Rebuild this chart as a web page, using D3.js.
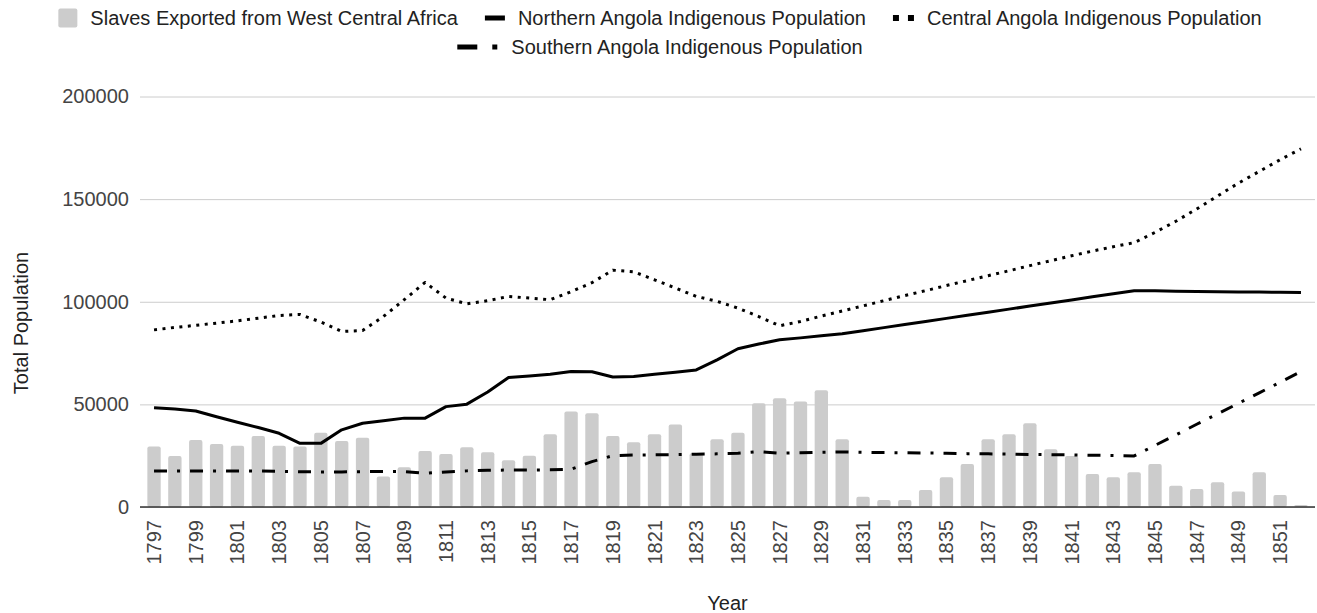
<!DOCTYPE html>
<html>
<head>
<meta charset="utf-8">
<script src="https://cdn.jsdelivr.net/npm/d3@7"></script>
<style>
  body { margin: 0; background: #fff; }
  text { font-family: Arial, "Liberation Sans", sans-serif; }
</style>
</head>
<body>
<svg id="chart"></svg>
<script>
const years = [
  1797, 1798, 1799, 1800, 1801, 1802, 1803, 1804, 1805, 1806,
  1807, 1808, 1809, 1810, 1811, 1812, 1813, 1814, 1815, 1816,
  1817, 1818, 1819, 1820, 1821, 1822, 1823, 1824, 1825, 1826,
  1827, 1828, 1829, 1830, 1831, 1832, 1833, 1834, 1835, 1836,
  1837, 1838, 1839, 1840, 1841, 1842, 1843, 1844, 1845, 1846,
  1847, 1848, 1849, 1850, 1851, 1852,
];

const slavesExported = [
  29500, 24900, 32700, 30700, 29800, 34600, 29800, 29500, 36200, 32200,
  33800, 14800, 19400, 27300, 25800, 29100, 26700, 22800, 25000, 35500,
  46500, 45700, 34600, 31500, 35500, 40200, 26200, 33000, 36200, 50600,
  53000, 51400, 56900, 33000, 5000, 3400, 3400, 8300, 14500, 21000,
  33000, 35500, 40800, 28100, 24900, 16100, 14500, 16900, 21000, 10400,
  8800, 12000, 7500, 16900, 5900, 1000,
];

const northernPop = [
  48400, 47700, 46800, 44000, 41300, 38700, 35900, 31000, 31000, 37600,
  40800, 42000, 43300, 43300, 48900, 50100, 56000, 63100, 63800, 64700,
  66000, 65900, 63300, 63600, 64700, 65700, 66800, 71700, 77100, 79400,
  81500, 82400, 83400, 84400, 85900, 87400, 88900, 90400, 91900, 93400,
  94900, 96400, 97900, 99400, 100900, 102400, 103900, 105400, 105300, 105100,
  105000, 104900, 104800, 104700, 104600, 104500,
];

const centralPop = [
  86300, 87500, 88500, 89600, 90700, 92000, 93300, 93800, 90100, 85500,
  86000, 92800, 101000, 109400, 101800, 99000, 100500, 102600, 101800, 101000,
  104900, 109300, 115400, 114600, 110700, 106700, 102600, 100200, 96900, 92800,
  88300, 90400, 93000, 95500, 98000, 100500, 103000, 105400, 107900, 110300,
  112700, 115100, 117600, 120000, 122400, 124700, 126800, 128800, 133800, 139200,
  145200, 151500, 157800, 163500, 169200, 174500,
];

const southernPop = [
  17600, 17600, 17600, 17600, 17500, 17500, 17400, 17200, 17100, 17100,
  17200, 17300, 17200, 16400, 17100, 17600, 17900, 18000, 18000, 18100,
  18400, 22100, 25000, 25300, 25400, 25500, 25700, 25900, 26200, 27000,
  26200, 26400, 26700, 26800, 26600, 26500, 26400, 26300, 26200, 26000,
  25900, 25800, 25600, 25500, 25400, 25200, 25100, 24900, 30000, 35100,
  40300, 45400, 50500, 55600, 60800, 66000,
];

const yTicks = [0, 50000, 100000, 150000, 200000];
const xTickLabels = years.filter((y) => y % 2 === 1);

const size = { width: 1317, height: 613 };
const plot = { left: 143.6, right: 1311.4, top: 96.5, bottom: 507 };

const BAR = "#cccccc";
const LINE = "#000000";

const svg = d3
  .select("#chart")
  .attr("width", size.width)
  .attr("height", size.height);

const x = d3
  .scaleBand()
  .domain(years)
  .range([plot.left, plot.right])
  .paddingInner(0.36)
  .paddingOuter(0.18);

const y = d3
  .scaleLinear()
  .domain([0, 200000])
  .range([plot.bottom, plot.top]);

const cx = (yr) => x(yr) + x.bandwidth() / 2;

// gridlines + y labels
const yAxis = svg
  .append("g")
  .attr("transform", `translate(${plot.left - 3.6}, 0)`)
  .call(
    d3
      .axisLeft(y)
      .tickValues(yTicks)
      .tickSize(-(plot.right - plot.left + 7.2))
      .tickPadding(11)
      .tickFormat(d3.format("d"))
  );
yAxis.select(".domain").remove();
yAxis
  .selectAll(".tick line")
  .attr("stroke", "#cccccc")
  .attr("stroke-width", 1);
yAxis
  .selectAll(".tick text")
  .attr("fill", "#444")
  .style("font-size", "20px")
  .style("font-family", "Arial, 'Liberation Sans', sans-serif");

// bars
svg
  .append("g")
  .attr("fill", BAR)
  .selectAll("rect")
  .data(years)
  .enter()
  .append("rect")
  .attr("x", (d) => x(d))
  .attr("width", x.bandwidth())
  .attr("y", (d, i) => y(slavesExported[i]))
  .attr("height", (d, i) => y(0) - y(slavesExported[i]))
  .attr("rx", 2);

// baseline
svg
  .append("line")
  .attr("x1", plot.left - 3.6)
  .attr("x2", plot.right + 3.6)
  .attr("y1", y(0))
  .attr("y2", y(0))
  .attr("stroke", "#333")
  .attr("stroke-width", 1.5);

// x labels, rotated
const xAxis = svg
  .append("g")
  .attr("transform", `translate(0, ${y(0)})`)
  .call(d3.axisBottom(x).tickValues(xTickLabels).tickSize(0).tickPadding(0));
xAxis.select(".domain").remove();
xAxis
  .selectAll(".tick text")
  .attr("fill", "#444")
  .style("font-size", "20px")
  .style("font-family", "Arial, 'Liberation Sans', sans-serif")
  .attr("transform", "rotate(-90)")
  .attr("x", -13)
  .attr("y", 0)
  .attr("dy", "0.35em")
  .attr("text-anchor", "end");

// lines
const line = d3
  .line()
  .x((d, i) => cx(years[i]))
  .y((d) => y(d));

const series = [
  { values: northernPop, dash: null },
  { values: centralPop, dash: "3,5.5" },
  { values: southernPop, dash: "13,10,3,10" },
];

series.forEach((s) => {
  svg
    .append("path")
    .datum(s.values)
    .attr("fill", "none")
    .attr("stroke", LINE)
    .attr("stroke-width", 3)
    .attr("stroke-linejoin", "round")
    .attr("stroke-dasharray", s.dash)
    .attr("d", line);
});

// axis titles
svg
  .append("text")
  .text("Year")
  .attr("x", (plot.left + plot.right) / 2)
  .attr("y", 610)
  .attr("text-anchor", "middle")
  .attr("font-size", 20)
  .attr("fill", "#222");

svg
  .append("text")
  .text("Total Population")
  .attr("transform", "translate(28, 323) rotate(-90)")
  .attr("text-anchor", "middle")
  .attr("font-size", 20)
  .attr("fill", "#222");

// legend
const legendItems = [
  [
    { label: "Slaves Exported from West Central Africa", kind: "bar" },
    { label: "Northern Angola Indigenous Population", kind: "solid" },
    { label: "Central Angola Indigenous Population", kind: "dot" },
  ],
  [{ label: "Southern Angola Indigenous Population", kind: "dashdot" }],
];
const markerWidth = { bar: 19, solid: 20, dot: 21, dashdot: 41 };
const legendRowY = [18, 47];
const legendCenter = 660;

legendItems.forEach((row, r) => {
  const g = svg.append("g");
  let cursor = 0;
  row.forEach((item, i) => {
    if (i > 0) cursor += 27;
    const mk = g.append("g").attr("transform", `translate(${cursor}, ${legendRowY[r]})`);
    if (item.kind === "bar") {
      mk.append("rect")
        .attr("x", 0).attr("y", -9.5)
        .attr("width", 19).attr("height", 19)
        .attr("rx", 2).attr("fill", BAR);
    } else if (item.kind === "solid") {
      mk.append("rect")
        .attr("x", 0).attr("y", -2.5)
        .attr("width", 20).attr("height", 5).attr("fill", LINE);
    } else if (item.kind === "dot") {
      [0, 15].forEach((dx) =>
        mk.append("rect")
          .attr("x", dx).attr("y", -3)
          .attr("width", 6).attr("height", 6).attr("fill", LINE)
      );
    } else {
      mk.append("rect")
        .attr("x", 0).attr("y", -2.5)
        .attr("width", 20).attr("height", 5).attr("fill", LINE);
      mk.append("rect")
        .attr("x", 35).attr("y", -2.5)
        .attr("width", 5).attr("height", 5).attr("fill", LINE);
    }
    cursor += markerWidth[item.kind] + 13;
    const t = g
      .append("text")
      .text(item.label)
      .attr("x", cursor)
      .attr("y", legendRowY[r])
      .attr("dy", "0.35em")
      .attr("font-size", 20)
      .attr("fill", "#222");
    cursor += t.node().getComputedTextLength();
  });
  g.attr("transform", `translate(${legendCenter - cursor / 2}, 0)`);
});
</script>
</body>
</html>
